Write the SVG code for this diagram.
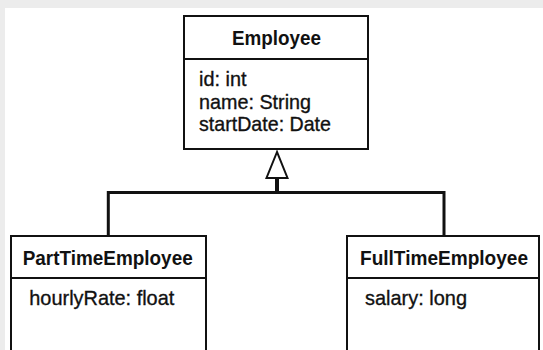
<svg xmlns="http://www.w3.org/2000/svg" width="543" height="350" viewBox="0 0 543 350">
<style>
.box{fill:#fff;stroke:#111;stroke-width:2}
.div{stroke:#111;stroke-width:2}
.title{font-family:"Liberation Sans",Arial,sans-serif;font-weight:bold;font-size:21px;fill:#111}
.attr{font-family:"Liberation Sans",Arial,sans-serif;font-size:21px;fill:#111;stroke:#111;stroke-width:0.35}
.conn{fill:none;stroke:#111;stroke-width:3}
</style>
<rect x="0" y="0" width="543" height="350" fill="#ececec"/>
<rect x="5" y="8" width="538" height="342" fill="#fff"/>
<g id="employee">
<rect class="box" x="184" y="16" width="184" height="133"/>
<line class="div" x1="184" y1="59" x2="368" y2="59"/>
<text class="title" x="276.5" y="45" text-anchor="middle" textLength="89" lengthAdjust="spacingAndGlyphs">Employee</text>
<text class="attr" x="199" y="86" textLength="47.5" lengthAdjust="spacingAndGlyphs">id: int</text>
<text class="attr" x="199" y="108.5" textLength="112" lengthAdjust="spacingAndGlyphs">name: String</text>
<text class="attr" x="199" y="131" textLength="132" lengthAdjust="spacingAndGlyphs">startDate: Date</text>
</g>
<g id="parttime">
<rect class="box" x="11" y="236" width="195" height="125"/>
<line class="div" x1="11" y1="278" x2="206" y2="278"/>
<text class="title" x="22.7" y="265" textLength="170" lengthAdjust="spacingAndGlyphs">PartTimeEmployee</text>
<text class="attr" x="29.3" y="305" textLength="145" lengthAdjust="spacingAndGlyphs">hourlyRate: float</text>
</g>
<g id="fulltime">
<rect class="box" x="347" y="236" width="192" height="125"/>
<line class="div" x1="347" y1="278" x2="539" y2="278"/>
<text class="title" x="360" y="265" textLength="168" lengthAdjust="spacingAndGlyphs">FullTimeEmployee</text>
<text class="attr" x="365" y="305" textLength="102" lengthAdjust="spacingAndGlyphs">salary: long</text>
</g>
<g id="connectors">
<line x1="277" y1="178" x2="277" y2="193" stroke="#111" stroke-width="4"/>
<polyline class="conn" points="108.3,236 108.3,192.5 444,192.5 444,236"/>
<polygon points="277,152 266.5,178 287.5,178" fill="#fff" stroke="#111" stroke-width="2" stroke-linejoin="miter"/>
</g>
</svg>
